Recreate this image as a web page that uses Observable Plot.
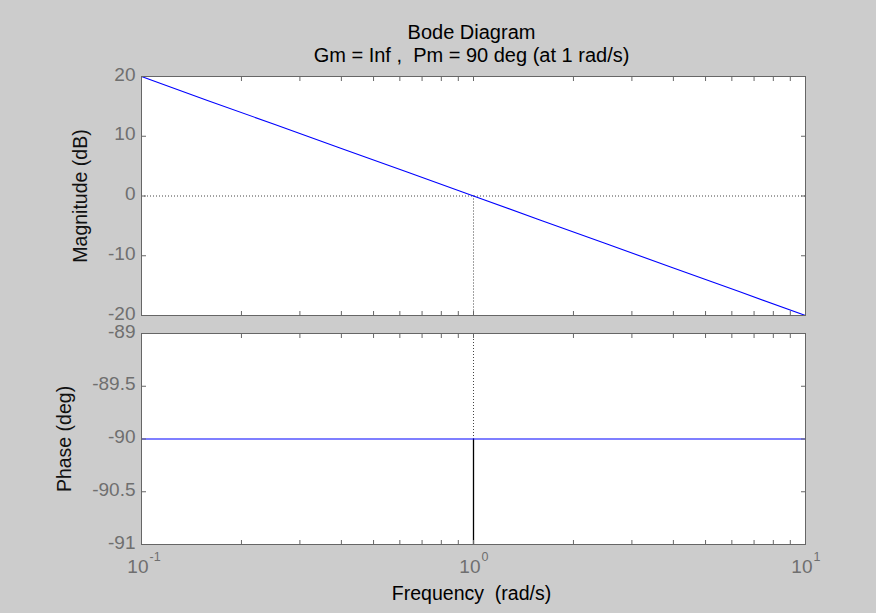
<!DOCTYPE html>
<html><head><meta charset="utf-8">
<script src="https://cdn.jsdelivr.net/npm/d3@7"></script>
<script src="https://cdn.jsdelivr.net/npm/@observablehq/plot@0.6"></script>
<style>
html,body{margin:0;padding:0;background:#cccccc;}
#wrap{position:relative;width:876px;height:613px;background:#cccccc;overflow:hidden;}
#wrap svg{position:absolute;left:0;}
</style></head><body><div id="wrap"></div>
<script>
// ---- text ----
const titleText = "Bode Diagram";
const subtitleText = "Gm = Inf ,  Pm = 90 deg (at 1 rad/s)";
const xLabel = "Frequency  (rad/s)";
const magLabel = "Magnitude (dB)";
const phaseLabel = "Phase (deg)";

// ---- data ----
const freq  = [0.1, 0.158, 0.251, 0.398, 0.631, 1, 1.585, 2.512, 3.981, 6.31, 10];
const magDb = [20, 16, 12, 8, 4, 0, -4, -8, -12, -16, -20];
const phaseFreq = [0.1, 10];
const phaseDeg  = [-90, -90];
const crossoverFreq = 1;
const phaseAtCrossover = -90;

// ---- ticks ----
const xMajorTicks = [0.1, 1, 10];
const xTickExponents = ["-1", "0", "1"];
const xMinorTicks = [0.2, 0.3, 0.4, 0.5, 0.6, 0.7, 0.8, 0.9, 2, 3, 4, 5, 6, 7, 8, 9];
const magTicks = [-20, -10, 0, 10, 20];
const phaseTicks = [-91, -90.5, -90, -89.5, -89];

const font = "'Liberation Sans', Arial, Helvetica, sans-serif";
const axisGray = "#666666";
const labelGray = "#6f6f6f";
const allXTicks = xMajorTicks.concat(xMinorTicks);

function tickMarks(yTicks) {
  const o = {tickFormat: () => "", label: null, stroke: axisGray};
  return [
    Plot.axisX(allXTicks, {...o, anchor: "bottom", tickSize: 4, dy: -4}),
    Plot.axisX(allXTicks, {...o, anchor: "top", tickSize: 4, dy: 4}),
    Plot.axisY(yTicks, {...o, anchor: "left", tickSize: 5, dx: 5}),
    Plot.axisY(yTicks, {...o, anchor: "right", tickSize: 5, dx: -5})
  ];
}
function yTickLabels(yTicks) {
  return Plot.text(yTicks, {y: d => d, text: d => String(d), frameAnchor: "left", textAnchor: "end", lineAnchor: "middle", dx: -6, dy: -2, fill: labelGray, fontSize: 19});
}
const styleObj = {background: "transparent", overflow: "visible", fontFamily: font, fontSize: "19px"};

const magData = freq.map((f, i) => ({f, v: magDb[i]}));
const phaseData = phaseFreq.map((f, i) => ({f, v: phaseDeg[i]}));

const topPlot = Plot.plot({
  width: 876, height: 324,
  marginLeft: 141, marginRight: 71, marginTop: 76, marginBottom: 9,
  style: styleObj,
  x: {type: "log", domain: [xMajorTicks[0], xMajorTicks[2]]},
  y: {domain: [magTicks[0], magTicks[4]]},
  marks: [
    Plot.frame({fill: "white", stroke: null}),
    Plot.ruleY([0], {stroke: "#444", strokeDasharray: "1,2"}),
    Plot.ruleX([crossoverFreq], {y1: 0, y2: magTicks[0], stroke: "#444", strokeDasharray: "1,2"}),
    Plot.line(magData, {x: "f", y: "v", stroke: "#0000ff", strokeWidth: 1.1}),
    ...tickMarks(magTicks),
    yTickLabels(magTicks),
    Plot.text([magLabel], {text: d => d, frameAnchor: "left", textAnchor: "middle", lineAnchor: "middle", rotate: -90, dx: -61, fill: "#111", fontSize: 19.5}),
    Plot.text([titleText], {text: d => d, frameAnchor: "top", lineAnchor: "bottom", dx: -2, dy: -38, fill: "#000", fontSize: 20}),
    Plot.text([subtitleText], {text: d => d, frameAnchor: "top", lineAnchor: "bottom", dx: -2, dy: -15, fill: "#000", fontSize: 20}),
    Plot.frame({stroke: axisGray, fill: null})
  ]
});
topPlot.style.top = "0px";

const bottomPlot = Plot.plot({
  width: 876, height: 289,
  marginLeft: 141, marginRight: 71, marginTop: 9, marginBottom: 69,
  style: styleObj,
  x: {type: "log", domain: [xMajorTicks[0], xMajorTicks[2]]},
  y: {domain: [phaseTicks[0], phaseTicks[4]]},
  marks: [
    Plot.frame({fill: "white", stroke: null}),
    Plot.ruleX([crossoverFreq], {y1: phaseTicks[4], y2: phaseAtCrossover, stroke: "#444", strokeDasharray: "1,2"}),
    Plot.ruleX([crossoverFreq], {y1: phaseAtCrossover, y2: phaseTicks[0], stroke: "#000", strokeWidth: 1.3}),
    Plot.line(phaseData, {x: "f", y: "v", stroke: "#0000ff", strokeWidth: 1.1}),
    ...tickMarks(phaseTicks),
    yTickLabels(phaseTicks),
    Plot.text(xMajorTicks, {x: d => d, text: () => "10", frameAnchor: "bottom", lineAnchor: "bottom", textAnchor: "end", dx: 7, dy: 28, fill: labelGray, fontSize: 19}),
    Plot.text(xMajorTicks, {x: d => d, text: (d, i) => xTickExponents[i], frameAnchor: "bottom", lineAnchor: "bottom", textAnchor: "start", dx: 8, dy: 16, fill: labelGray, fontSize: 12.5}),
    Plot.text([xLabel], {text: d => d, frameAnchor: "bottom", lineAnchor: "bottom", dx: -2, dy: 55, fill: "#000", fontSize: 19.5}),
    Plot.text([phaseLabel], {text: d => d, frameAnchor: "left", textAnchor: "middle", lineAnchor: "middle", rotate: -90, dx: -77, fill: "#111", fontSize: 19.5}),
    Plot.frame({stroke: axisGray, fill: null})
  ]
});
bottomPlot.style.top = "324px";

const wrap = document.getElementById("wrap");
wrap.appendChild(topPlot);
wrap.appendChild(bottomPlot);
</script>
</body></html>
